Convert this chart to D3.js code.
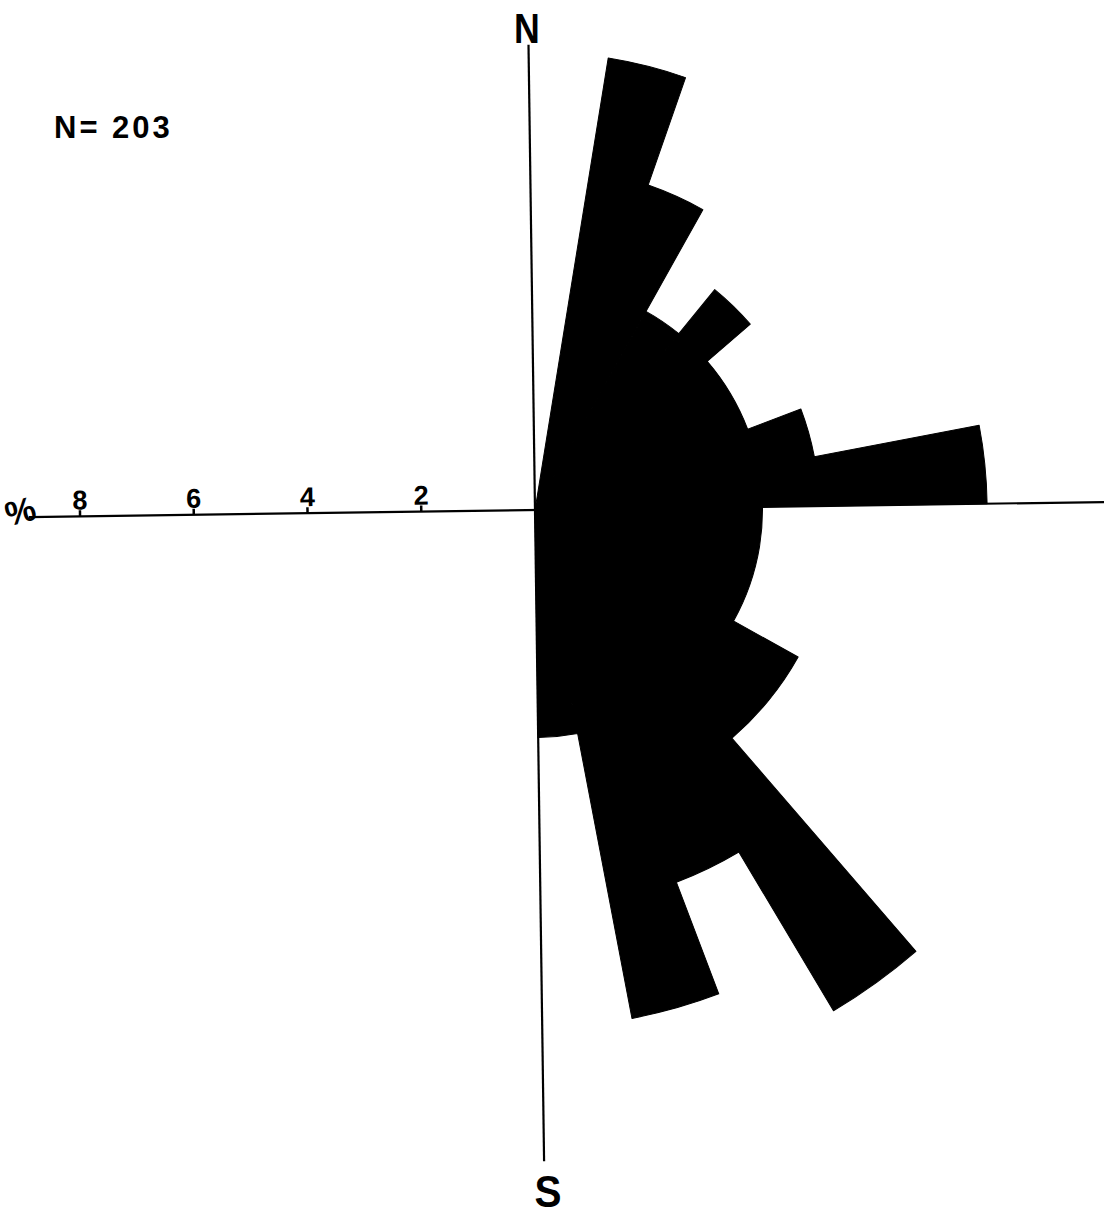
<!DOCTYPE html>
<html>
<head>
<meta charset="utf-8">
<script src="https://cdn.jsdelivr.net/npm/d3@7"></script>
<style>
  html, body { margin: 0; padding: 0; background: #fff; }
  svg { display: block; }
  text { font-family: "Liberation Sans", "DejaVu Sans", sans-serif; fill: #000; font-weight: bold; }
</style>
</head>
<body>
<script>
// Orientation rose: percentage of 203 measurements in each 10° azimuth class (0°–180°)
const binStarts = [0, 10, 20, 30, 40, 50, 60, 70, 80, 90, 100, 110, 120, 130, 140, 150, 160, 170];
const percents  = [0, 8.05, 6.05, 4.0, 5.0, 4.0, 4.0, 5.0, 7.95, 4.0, 4.0, 4.0, 5.3, 5.3, 10.25, 7.0, 9.1, 4.0];
const binWidth = 10;
const scaleTicks = [2, 4, 6, 8];
const sampleLabel = "N= 203";

const W = 1104, H = 1215;
const cx = 535, cy = 510;
const tilt = -0.8; // the drawing sits turned slightly counter-clockwise

const svg = d3.select("body").append("svg")
  .attr("width", W).attr("height", H);

// radius in pixels per percent
const r = d3.scaleLinear().domain([0, 8]).range([0, 455]);

const g = svg.append("g")
  .attr("transform", `translate(${cx},${cy}) rotate(${tilt})`);

// reference lines: north, south, and the percent scale running west / east
g.append("line").attr("x1", 0).attr("y1", 0).attr("x2", 0).attr("y2", -r(8.18))
  .attr("stroke", "#000").attr("stroke-width", 2.2);
g.append("line").attr("x1", 0).attr("y1", 0).attr("x2", 0).attr("y2", r(11.45))
  .attr("stroke", "#000").attr("stroke-width", 2.2);
g.append("line").attr("x1", -r(8.9)).attr("y1", 0).attr("x2", r(10.2)).attr("y2", 0)
  .attr("stroke", "#000").attr("stroke-width", 2.2);

// scale ticks and numbers along the western half of the axis
const ticks = g.append("g").selectAll("g").data(scaleTicks).join("g")
  .attr("transform", d => `translate(${-r(d)},0)`);
ticks.append("line").attr("x1", 0).attr("x2", 0).attr("y1", 0).attr("y2", -6)
  .attr("stroke", "#000").attr("stroke-width", 2.5);
ticks.append("text")
  .attr("x", 0).attr("y", -7)
  .attr("text-anchor", "middle")
  .style("font-size", "27px")
  .text(d => d);

// rose petals, joined into one outline so neighbouring classes merge cleanly
const arc = d3.arc()
  .innerRadius(0)
  .outerRadius(d => r(d.p))
  .startAngle(d => d.a * Math.PI / 180)
  .endAngle(d => (d.a + binWidth) * Math.PI / 180);

const bins = binStarts.map((a, i) => ({ a, p: percents[i] })).filter(d => d.p > 0);
g.append("path")
  .datum(bins)
  .attr("d", d => d.map(arc).join(""))
  .attr("fill", "#000")
  .attr("stroke", "#000")
  .attr("stroke-width", 1)
  .attr("stroke-linejoin", "round");

// direction letters
svg.append("text").attr("x", 527).attr("y", 43)
  .attr("text-anchor", "middle")
  .style("font-size", "42px")
  .attr("transform", "translate(527,0) scale(0.85,1) translate(-527,0)")
  .text("N");
svg.append("text").attr("x", 548).attr("y", 1207)
  .attr("text-anchor", "middle")
  .style("font-size", "45px")
  .attr("transform", "translate(548,0) scale(0.9,1) translate(-548,0)")
  .text("S");

// percent sign at the end of the scale
svg.append("text").attr("x", 20).attr("y", 523)
  .attr("text-anchor", "middle")
  .style("font-size", "34px")
  .attr("transform", "rotate(-15,20,510)")
  .text("%");

// sample size
svg.append("text").attr("x", 54).attr("y", 138)
  .style("font-size", "31px")
  .style("letter-spacing", "3px")
  .text(sampleLabel);
</script>
</body>
</html>
